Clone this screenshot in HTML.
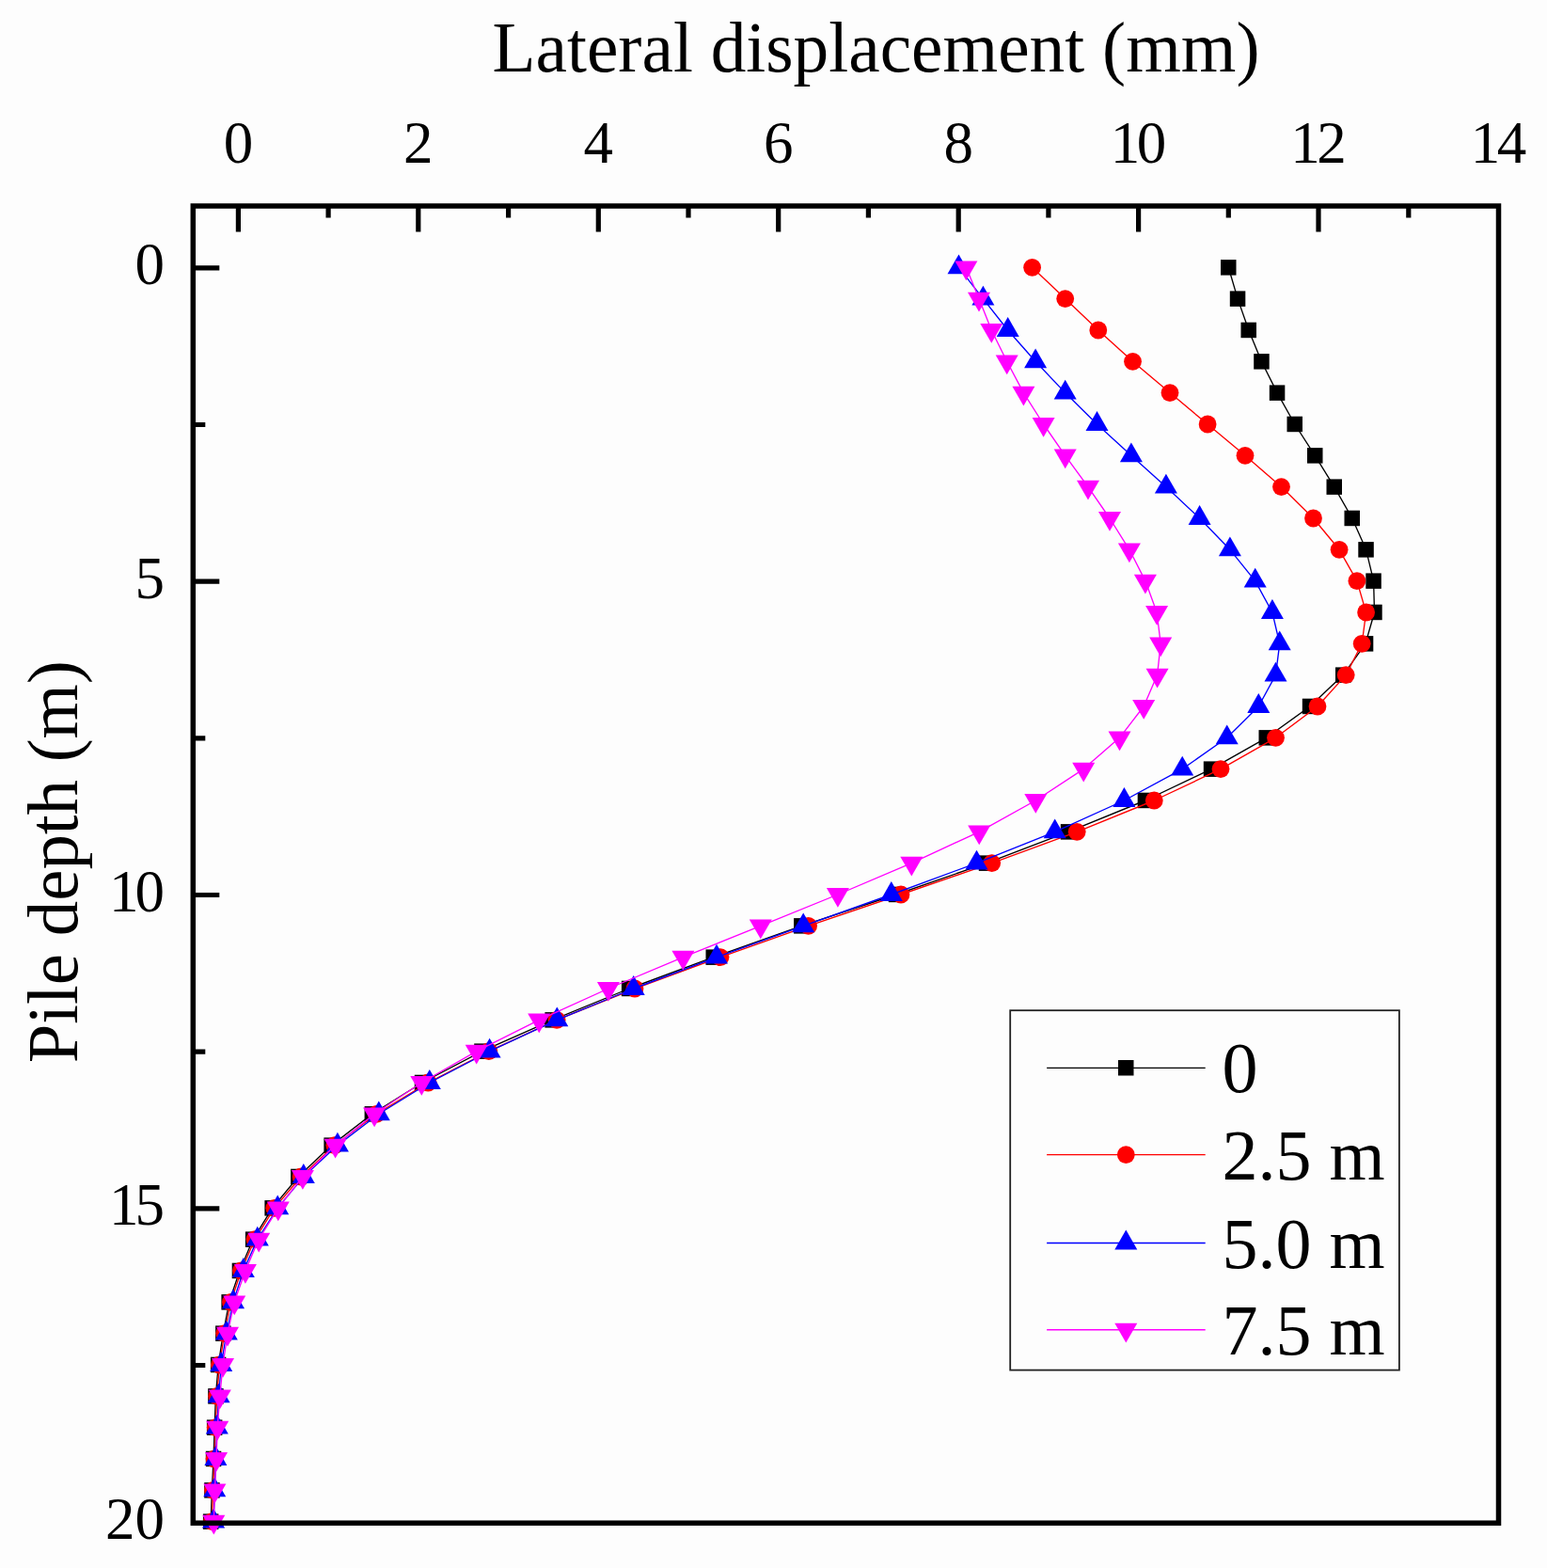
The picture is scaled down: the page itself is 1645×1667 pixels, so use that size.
<!DOCTYPE html><html><head><meta charset="utf-8"><style>html,body{margin:0;padding:0;background:#fdfdfd;}svg{display:block;}text{font-family:"Liberation Serif","Times New Roman",serif;fill:#000;}</style></head><body>
<svg width="1645" height="1667" viewBox="0 0 1645 1667">
<rect width="1645" height="1667" fill="#fdfdfd"/>
<text x="931.5" y="75.8" font-size="76" text-anchor="middle" textLength="816" lengthAdjust="spacingAndGlyphs">Lateral displacement (mm)</text>
<text x="253.4" y="172.5" font-size="63" text-anchor="middle">0</text>
<text x="444.8" y="172.5" font-size="63" text-anchor="middle">2</text>
<text x="636.3" y="172.5" font-size="63" text-anchor="middle">4</text>
<text x="827.7" y="172.5" font-size="63" text-anchor="middle">6</text>
<text x="1019.2" y="172.5" font-size="63" text-anchor="middle">8</text>
<text x="1210.6" y="172.5" font-size="63" text-anchor="middle" textLength="59.5" lengthAdjust="spacing">10</text>
<text x="1402.0" y="172.5" font-size="63" text-anchor="middle" textLength="59.5" lengthAdjust="spacing">12</text>
<text x="1593.5" y="172.5" font-size="63" text-anchor="middle" textLength="59.5" lengthAdjust="spacing">14</text>
<text x="175" y="302.3" font-size="63" text-anchor="end">0</text>
<text x="175" y="635.6" font-size="63" text-anchor="end">5</text>
<text x="175" y="969.0" font-size="63" text-anchor="end" textLength="59" lengthAdjust="spacing">10</text>
<text x="175" y="1302.3" font-size="63" text-anchor="end" textLength="59" lengthAdjust="spacing">15</text>
<text x="175" y="1635.6" font-size="63" text-anchor="end">20</text>
<text transform="translate(82,916.3) rotate(-90)" x="0" y="0" font-size="76" text-anchor="middle" textLength="428" lengthAdjust="spacingAndGlyphs">Pile depth (m)</text>
<polyline points="1306.3,284.3 1316.1,317.6 1327.8,351.0 1341.4,384.3 1358.1,417.6 1376.8,451.0 1398.3,484.3 1418.8,517.6 1437.8,551.0 1452.6,584.3 1460.6,617.6 1461.5,651.0 1452.0,684.3 1428.3,717.6 1393.0,751.0 1346.8,784.3 1288.0,817.6 1217.9,851.0 1136.0,884.3 1049.0,917.6 953.0,951.0 852.4,984.3 758.7,1017.6 669.1,1051.0 587.6,1084.3 512.5,1117.6 449.0,1151.0 395.8,1184.3 352.6,1217.6 317.3,1251.0 289.6,1284.3 269.1,1317.6 254.9,1351.0 243.7,1384.3 237.3,1417.6 232.2,1451.0 229.4,1484.3 228.2,1517.6 227.0,1551.0 225.4,1584.3 224.2,1617.6" fill="none" stroke="#000000" stroke-width="1.35" stroke-linejoin="round"/>
<rect x="1298.0" y="276.1" width="16.5" height="16.5" fill="#000000"/>
<rect x="1307.8" y="309.4" width="16.5" height="16.5" fill="#000000"/>
<rect x="1319.5" y="342.7" width="16.5" height="16.5" fill="#000000"/>
<rect x="1333.2" y="376.1" width="16.5" height="16.5" fill="#000000"/>
<rect x="1349.8" y="409.4" width="16.5" height="16.5" fill="#000000"/>
<rect x="1368.5" y="442.7" width="16.5" height="16.5" fill="#000000"/>
<rect x="1390.0" y="476.1" width="16.5" height="16.5" fill="#000000"/>
<rect x="1410.5" y="509.4" width="16.5" height="16.5" fill="#000000"/>
<rect x="1429.5" y="542.7" width="16.5" height="16.5" fill="#000000"/>
<rect x="1444.3" y="576.1" width="16.5" height="16.5" fill="#000000"/>
<rect x="1452.3" y="609.4" width="16.5" height="16.5" fill="#000000"/>
<rect x="1453.2" y="642.7" width="16.5" height="16.5" fill="#000000"/>
<rect x="1443.8" y="676.1" width="16.5" height="16.5" fill="#000000"/>
<rect x="1420.0" y="709.4" width="16.5" height="16.5" fill="#000000"/>
<rect x="1384.8" y="742.7" width="16.5" height="16.5" fill="#000000"/>
<rect x="1338.5" y="776.1" width="16.5" height="16.5" fill="#000000"/>
<rect x="1279.8" y="809.4" width="16.5" height="16.5" fill="#000000"/>
<rect x="1209.7" y="842.7" width="16.5" height="16.5" fill="#000000"/>
<rect x="1127.8" y="876.1" width="16.5" height="16.5" fill="#000000"/>
<rect x="1040.8" y="909.4" width="16.5" height="16.5" fill="#000000"/>
<rect x="944.8" y="942.7" width="16.5" height="16.5" fill="#000000"/>
<rect x="844.1" y="976.1" width="16.5" height="16.5" fill="#000000"/>
<rect x="750.5" y="1009.4" width="16.5" height="16.5" fill="#000000"/>
<rect x="660.9" y="1042.7" width="16.5" height="16.5" fill="#000000"/>
<rect x="579.4" y="1076.1" width="16.5" height="16.5" fill="#000000"/>
<rect x="504.2" y="1109.4" width="16.5" height="16.5" fill="#000000"/>
<rect x="440.8" y="1142.7" width="16.5" height="16.5" fill="#000000"/>
<rect x="387.6" y="1176.1" width="16.5" height="16.5" fill="#000000"/>
<rect x="344.4" y="1209.4" width="16.5" height="16.5" fill="#000000"/>
<rect x="309.1" y="1242.7" width="16.5" height="16.5" fill="#000000"/>
<rect x="281.4" y="1276.1" width="16.5" height="16.5" fill="#000000"/>
<rect x="260.9" y="1309.4" width="16.5" height="16.5" fill="#000000"/>
<rect x="246.7" y="1342.7" width="16.5" height="16.5" fill="#000000"/>
<rect x="235.4" y="1376.1" width="16.5" height="16.5" fill="#000000"/>
<rect x="229.1" y="1409.4" width="16.5" height="16.5" fill="#000000"/>
<rect x="223.9" y="1442.7" width="16.5" height="16.5" fill="#000000"/>
<rect x="221.2" y="1476.1" width="16.5" height="16.5" fill="#000000"/>
<rect x="219.9" y="1509.4" width="16.5" height="16.5" fill="#000000"/>
<rect x="218.8" y="1542.7" width="16.5" height="16.5" fill="#000000"/>
<rect x="217.2" y="1576.1" width="16.5" height="16.5" fill="#000000"/>
<rect x="215.9" y="1609.4" width="16.5" height="16.5" fill="#000000"/>
<polyline points="1097.6,284.3 1132.7,317.6 1167.8,351.0 1204.5,384.3 1244.0,417.6 1284.1,451.0 1324.0,484.3 1362.5,517.6 1396.5,551.0 1424.1,584.3 1442.9,617.6 1452.6,651.0 1448.2,684.3 1431.2,717.6 1401.0,751.0 1356.5,784.3 1298.0,817.6 1227.3,851.0 1145.2,884.3 1054.7,917.6 958.0,951.0 859.6,984.3 766.0,1017.6 675.0,1051.0 592.1,1084.3 519.8,1117.6 455.2,1151.0 400.4,1184.3 355.8,1217.6 320.1,1251.0 291.8,1284.3 271.0,1317.6 256.5,1351.0 245.4,1384.3 238.7,1417.6 233.4,1451.0 230.7,1484.3 229.2,1517.6 228.0,1551.0 226.5,1584.3 225.4,1617.6" fill="none" stroke="#ff0000" stroke-width="1.35" stroke-linejoin="round"/>
<circle cx="1097.6" cy="284.3" r="9.4" fill="#ff0000"/>
<circle cx="1132.7" cy="317.6" r="9.4" fill="#ff0000"/>
<circle cx="1167.8" cy="351.0" r="9.4" fill="#ff0000"/>
<circle cx="1204.5" cy="384.3" r="9.4" fill="#ff0000"/>
<circle cx="1244.0" cy="417.6" r="9.4" fill="#ff0000"/>
<circle cx="1284.1" cy="451.0" r="9.4" fill="#ff0000"/>
<circle cx="1324.0" cy="484.3" r="9.4" fill="#ff0000"/>
<circle cx="1362.5" cy="517.6" r="9.4" fill="#ff0000"/>
<circle cx="1396.5" cy="551.0" r="9.4" fill="#ff0000"/>
<circle cx="1424.1" cy="584.3" r="9.4" fill="#ff0000"/>
<circle cx="1442.9" cy="617.6" r="9.4" fill="#ff0000"/>
<circle cx="1452.6" cy="651.0" r="9.4" fill="#ff0000"/>
<circle cx="1448.2" cy="684.3" r="9.4" fill="#ff0000"/>
<circle cx="1431.2" cy="717.6" r="9.4" fill="#ff0000"/>
<circle cx="1401.0" cy="751.0" r="9.4" fill="#ff0000"/>
<circle cx="1356.5" cy="784.3" r="9.4" fill="#ff0000"/>
<circle cx="1298.0" cy="817.6" r="9.4" fill="#ff0000"/>
<circle cx="1227.3" cy="851.0" r="9.4" fill="#ff0000"/>
<circle cx="1145.2" cy="884.3" r="9.4" fill="#ff0000"/>
<circle cx="1054.7" cy="917.6" r="9.4" fill="#ff0000"/>
<circle cx="958.0" cy="951.0" r="9.4" fill="#ff0000"/>
<circle cx="859.6" cy="984.3" r="9.4" fill="#ff0000"/>
<circle cx="766.0" cy="1017.6" r="9.4" fill="#ff0000"/>
<circle cx="675.0" cy="1051.0" r="9.4" fill="#ff0000"/>
<circle cx="592.1" cy="1084.3" r="9.4" fill="#ff0000"/>
<circle cx="519.8" cy="1117.6" r="9.4" fill="#ff0000"/>
<circle cx="455.2" cy="1151.0" r="9.4" fill="#ff0000"/>
<circle cx="400.4" cy="1184.3" r="9.4" fill="#ff0000"/>
<circle cx="355.8" cy="1217.6" r="9.4" fill="#ff0000"/>
<circle cx="320.1" cy="1251.0" r="9.4" fill="#ff0000"/>
<circle cx="291.8" cy="1284.3" r="9.4" fill="#ff0000"/>
<circle cx="271.0" cy="1317.6" r="9.4" fill="#ff0000"/>
<circle cx="256.5" cy="1351.0" r="9.4" fill="#ff0000"/>
<circle cx="245.4" cy="1384.3" r="9.4" fill="#ff0000"/>
<circle cx="238.7" cy="1417.6" r="9.4" fill="#ff0000"/>
<circle cx="233.4" cy="1451.0" r="9.4" fill="#ff0000"/>
<circle cx="230.7" cy="1484.3" r="9.4" fill="#ff0000"/>
<circle cx="229.2" cy="1517.6" r="9.4" fill="#ff0000"/>
<circle cx="228.0" cy="1551.0" r="9.4" fill="#ff0000"/>
<circle cx="226.5" cy="1584.3" r="9.4" fill="#ff0000"/>
<circle cx="225.4" cy="1617.6" r="9.4" fill="#ff0000"/>
<polyline points="1019.5,284.3 1045.4,317.6 1071.7,351.0 1101.1,384.3 1132.7,417.6 1166.5,451.0 1202.9,484.3 1239.9,517.6 1275.6,551.0 1307.9,584.3 1334.7,617.6 1352.9,651.0 1360.7,684.3 1356.5,717.6 1338.3,751.0 1304.7,784.3 1257.2,817.6 1195.4,851.0 1121.7,884.3 1038.5,917.6 947.8,951.0 854.2,984.3 762.0,1017.6 673.7,1051.0 592.3,1084.3 520.6,1117.6 456.8,1151.0 402.8,1184.3 358.9,1217.6 322.8,1251.0 295.2,1284.3 273.8,1317.6 258.8,1351.0 248.0,1384.3 240.8,1417.6 235.2,1451.0 232.6,1484.3 230.8,1517.6 229.4,1551.0 228.2,1584.3 227.1,1617.6" fill="none" stroke="#0000ff" stroke-width="1.35" stroke-linejoin="round"/>
<polygon points="1019.5,270.4 1031.5,291.2 1007.5,291.2" fill="#0000ff"/>
<polygon points="1045.4,303.8 1057.4,324.6 1033.4,324.6" fill="#0000ff"/>
<polygon points="1071.7,337.1 1083.7,357.9 1059.7,357.9" fill="#0000ff"/>
<polygon points="1101.1,370.4 1113.1,391.2 1089.1,391.2" fill="#0000ff"/>
<polygon points="1132.7,403.8 1144.7,424.6 1120.7,424.6" fill="#0000ff"/>
<polygon points="1166.5,437.1 1178.5,457.9 1154.5,457.9" fill="#0000ff"/>
<polygon points="1202.9,470.4 1214.9,491.2 1190.9,491.2" fill="#0000ff"/>
<polygon points="1239.9,503.8 1251.9,524.6 1227.9,524.6" fill="#0000ff"/>
<polygon points="1275.6,537.1 1287.6,557.9 1263.6,557.9" fill="#0000ff"/>
<polygon points="1307.9,570.4 1319.9,591.2 1295.9,591.2" fill="#0000ff"/>
<polygon points="1334.7,603.8 1346.7,624.6 1322.7,624.6" fill="#0000ff"/>
<polygon points="1352.9,637.1 1364.9,657.9 1340.9,657.9" fill="#0000ff"/>
<polygon points="1360.7,670.4 1372.7,691.2 1348.7,691.2" fill="#0000ff"/>
<polygon points="1356.5,703.8 1368.5,724.6 1344.5,724.6" fill="#0000ff"/>
<polygon points="1338.3,737.1 1350.3,757.9 1326.3,757.9" fill="#0000ff"/>
<polygon points="1304.7,770.4 1316.7,791.2 1292.7,791.2" fill="#0000ff"/>
<polygon points="1257.2,803.8 1269.2,824.6 1245.2,824.6" fill="#0000ff"/>
<polygon points="1195.4,837.1 1207.4,857.9 1183.4,857.9" fill="#0000ff"/>
<polygon points="1121.7,870.4 1133.7,891.2 1109.7,891.2" fill="#0000ff"/>
<polygon points="1038.5,903.8 1050.5,924.6 1026.5,924.6" fill="#0000ff"/>
<polygon points="947.8,937.1 959.8,957.9 935.8,957.9" fill="#0000ff"/>
<polygon points="854.2,970.4 866.2,991.2 842.2,991.2" fill="#0000ff"/>
<polygon points="762.0,1003.8 774.0,1024.6 750.0,1024.6" fill="#0000ff"/>
<polygon points="673.7,1037.1 685.7,1057.9 661.7,1057.9" fill="#0000ff"/>
<polygon points="592.3,1070.4 604.3,1091.2 580.3,1091.2" fill="#0000ff"/>
<polygon points="520.6,1103.8 532.6,1124.6 508.6,1124.6" fill="#0000ff"/>
<polygon points="456.8,1137.1 468.8,1157.9 444.8,1157.9" fill="#0000ff"/>
<polygon points="402.8,1170.4 414.8,1191.2 390.8,1191.2" fill="#0000ff"/>
<polygon points="358.9,1203.8 370.9,1224.6 346.9,1224.6" fill="#0000ff"/>
<polygon points="322.8,1237.1 334.8,1257.9 310.8,1257.9" fill="#0000ff"/>
<polygon points="295.2,1270.4 307.2,1291.2 283.2,1291.2" fill="#0000ff"/>
<polygon points="273.8,1303.8 285.8,1324.6 261.8,1324.6" fill="#0000ff"/>
<polygon points="258.8,1337.1 270.8,1357.9 246.8,1357.9" fill="#0000ff"/>
<polygon points="248.0,1370.4 260.0,1391.2 236.0,1391.2" fill="#0000ff"/>
<polygon points="240.8,1403.8 252.8,1424.6 228.8,1424.6" fill="#0000ff"/>
<polygon points="235.2,1437.1 247.2,1457.9 223.2,1457.9" fill="#0000ff"/>
<polygon points="232.6,1470.4 244.6,1491.2 220.6,1491.2" fill="#0000ff"/>
<polygon points="230.8,1503.8 242.8,1524.6 218.8,1524.6" fill="#0000ff"/>
<polygon points="229.4,1537.1 241.4,1557.9 217.4,1557.9" fill="#0000ff"/>
<polygon points="228.2,1570.5 240.2,1591.2 216.2,1591.2" fill="#0000ff"/>
<polygon points="227.1,1603.8 239.1,1624.6 215.1,1624.6" fill="#0000ff"/>
<polyline points="1027.4,284.3 1041.0,317.6 1054.3,351.0 1070.7,384.3 1088.4,417.6 1109.6,451.0 1132.7,484.3 1157.0,517.6 1180.0,551.0 1200.9,584.3 1217.9,617.6 1230.1,651.0 1234.2,684.3 1230.6,717.6 1216.2,751.0 1190.5,784.3 1152.2,817.6 1101.3,851.0 1041.2,884.3 969.3,917.6 890.9,951.0 808.8,984.3 726.4,1017.6 646.9,1051.0 573.2,1084.3 506.7,1117.6 448.3,1151.0 398.1,1184.3 356.6,1217.6 321.9,1251.0 295.8,1284.3 275.2,1317.6 260.9,1351.0 249.2,1384.3 242.0,1417.6 237.0,1451.0 233.8,1484.3 231.2,1517.6 230.0,1551.0 228.4,1584.3 227.3,1617.6" fill="none" stroke="#ff00ff" stroke-width="1.35" stroke-linejoin="round"/>
<polygon points="1027.4,298.2 1039.4,277.4 1015.4,277.4" fill="#ff00ff"/>
<polygon points="1041.0,331.5 1053.0,310.7 1029.0,310.7" fill="#ff00ff"/>
<polygon points="1054.3,364.8 1066.3,344.0 1042.3,344.0" fill="#ff00ff"/>
<polygon points="1070.7,398.2 1082.7,377.4 1058.7,377.4" fill="#ff00ff"/>
<polygon points="1088.4,431.5 1100.4,410.7 1076.4,410.7" fill="#ff00ff"/>
<polygon points="1109.6,464.8 1121.6,444.0 1097.6,444.0" fill="#ff00ff"/>
<polygon points="1132.7,498.2 1144.7,477.4 1120.7,477.4" fill="#ff00ff"/>
<polygon points="1157.0,531.5 1169.0,510.7 1145.0,510.7" fill="#ff00ff"/>
<polygon points="1180.0,564.8 1192.0,544.0 1168.0,544.0" fill="#ff00ff"/>
<polygon points="1200.9,598.2 1212.9,577.4 1188.9,577.4" fill="#ff00ff"/>
<polygon points="1217.9,631.5 1229.9,610.7 1205.9,610.7" fill="#ff00ff"/>
<polygon points="1230.1,664.8 1242.1,644.0 1218.1,644.0" fill="#ff00ff"/>
<polygon points="1234.2,698.2 1246.2,677.4 1222.2,677.4" fill="#ff00ff"/>
<polygon points="1230.6,731.5 1242.6,710.7 1218.6,710.7" fill="#ff00ff"/>
<polygon points="1216.2,764.8 1228.2,744.0 1204.2,744.0" fill="#ff00ff"/>
<polygon points="1190.5,798.2 1202.5,777.4 1178.5,777.4" fill="#ff00ff"/>
<polygon points="1152.2,831.5 1164.2,810.7 1140.2,810.7" fill="#ff00ff"/>
<polygon points="1101.3,864.8 1113.3,844.0 1089.3,844.0" fill="#ff00ff"/>
<polygon points="1041.2,898.2 1053.2,877.4 1029.2,877.4" fill="#ff00ff"/>
<polygon points="969.3,931.5 981.3,910.7 957.3,910.7" fill="#ff00ff"/>
<polygon points="890.9,964.8 902.9,944.0 878.9,944.0" fill="#ff00ff"/>
<polygon points="808.8,998.2 820.8,977.4 796.8,977.4" fill="#ff00ff"/>
<polygon points="726.4,1031.5 738.4,1010.7 714.4,1010.7" fill="#ff00ff"/>
<polygon points="646.9,1064.8 658.9,1044.0 634.9,1044.0" fill="#ff00ff"/>
<polygon points="573.2,1098.2 585.2,1077.4 561.2,1077.4" fill="#ff00ff"/>
<polygon points="506.7,1131.5 518.7,1110.7 494.7,1110.7" fill="#ff00ff"/>
<polygon points="448.3,1164.8 460.3,1144.0 436.3,1144.0" fill="#ff00ff"/>
<polygon points="398.1,1198.2 410.1,1177.4 386.1,1177.4" fill="#ff00ff"/>
<polygon points="356.6,1231.5 368.6,1210.7 344.6,1210.7" fill="#ff00ff"/>
<polygon points="321.9,1264.8 333.9,1244.0 309.9,1244.0" fill="#ff00ff"/>
<polygon points="295.8,1298.2 307.8,1277.4 283.8,1277.4" fill="#ff00ff"/>
<polygon points="275.2,1331.5 287.2,1310.7 263.2,1310.7" fill="#ff00ff"/>
<polygon points="260.9,1364.8 272.9,1344.0 248.9,1344.0" fill="#ff00ff"/>
<polygon points="249.2,1398.2 261.2,1377.4 237.2,1377.4" fill="#ff00ff"/>
<polygon points="242.0,1431.5 254.0,1410.7 230.0,1410.7" fill="#ff00ff"/>
<polygon points="237.0,1464.8 249.0,1444.0 225.0,1444.0" fill="#ff00ff"/>
<polygon points="233.8,1498.2 245.8,1477.4 221.8,1477.4" fill="#ff00ff"/>
<polygon points="231.2,1531.5 243.2,1510.7 219.2,1510.7" fill="#ff00ff"/>
<polygon points="230.0,1564.8 242.0,1544.0 218.0,1544.0" fill="#ff00ff"/>
<polygon points="228.4,1598.2 240.4,1577.4 216.4,1577.4" fill="#ff00ff"/>
<polygon points="227.3,1631.5 239.3,1610.7 215.3,1610.7" fill="#ff00ff"/>
<path d="M253.4,219.0V246.5 M349.1,219.0V231.5 M444.8,219.0V246.5 M540.6,219.0V231.5 M636.3,219.0V246.5 M732.0,219.0V231.5 M827.7,219.0V246.5 M923.4,219.0V231.5 M1019.2,219.0V246.5 M1114.9,219.0V231.5 M1210.6,219.0V246.5 M1306.3,219.0V231.5 M1402.0,219.0V246.5 M1497.8,219.0V231.5 M205.3,284.8H233.3 M205.3,451.5H218.3 M205.3,618.1H233.3 M205.3,784.8H218.3 M205.3,951.5H233.3 M205.3,1118.1H218.3 M205.3,1284.8H233.3 M205.3,1451.5H218.3" stroke="#000" stroke-width="5.2" fill="none"/>
<rect x="205.3" y="219.0" width="1388.2" height="1400.2" fill="none" stroke="#000" stroke-width="5.5"/>
<rect x="1074.2" y="1074.2" width="413.7" height="382.4" fill="none" stroke="#222" stroke-width="1.8"/>
<path d="M1113.1,1135.3H1281.7" stroke="#000000" stroke-width="1.35"/>
<rect x="1189.0" y="1127.0" width="16.5" height="16.5" fill="#000000"/>
<text x="1299.5" y="1161.3" font-size="76">0</text>
<path d="M1113.1,1227.6H1281.7" stroke="#ff0000" stroke-width="1.35"/>
<circle cx="1197.3" cy="1227.6" r="9.4" fill="#ff0000"/>
<text x="1299.5" y="1253.6" font-size="76">2.5 m</text>
<path d="M1113.1,1321.5H1281.7" stroke="#0000ff" stroke-width="1.35"/>
<polygon points="1197.3,1307.6 1209.3,1328.4 1185.3,1328.4" fill="#0000ff"/>
<text x="1299.5" y="1347.5" font-size="76">5.0 m</text>
<path d="M1113.1,1413.7H1281.7" stroke="#ff00ff" stroke-width="1.35"/>
<polygon points="1197.3,1427.6 1209.3,1406.8 1185.3,1406.8" fill="#ff00ff"/>
<text x="1299.5" y="1439.7" font-size="76">7.5 m</text>
</svg></body></html>
